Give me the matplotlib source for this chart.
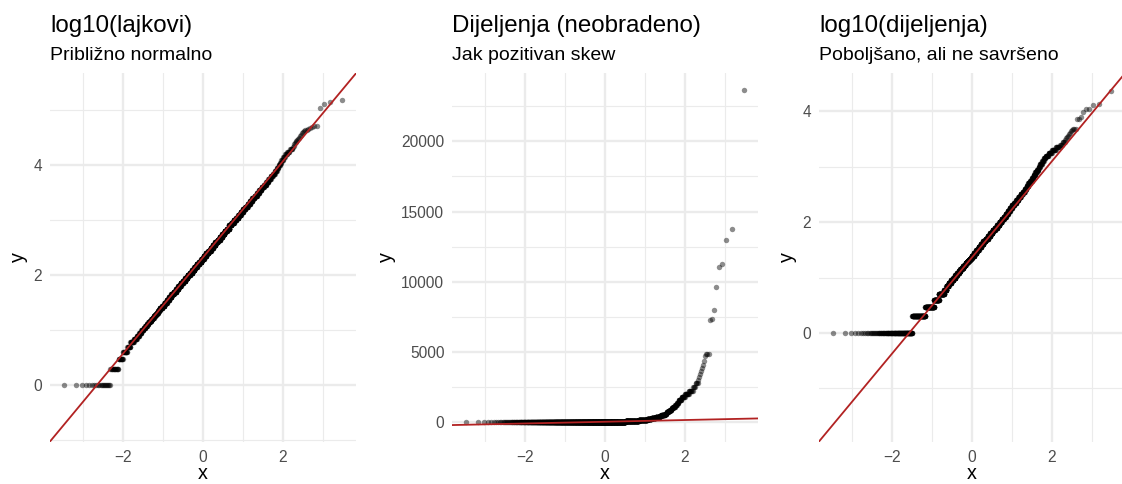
import numpy as np
import matplotlib
matplotlib.use("Agg")
import matplotlib.pyplot as plt
from matplotlib.ticker import MultipleLocator
from statistics import NormalDist

# ---------------- data (frequency tables) ----------------
# likes per post: distinct values and how many posts have that value
lajkovi_vrijednosti = [
    1, 2, 3, 4, 5, 6, 7, 8, 9, 10,
    11, 12, 13, 14, 15, 16, 17, 18, 19, 20,
    21, 22, 23, 25, 28, 32, 35, 40, 45, 50, 56, 63, 71, 79, 89,
    100, 112, 126, 141, 158, 178, 200, 224, 251, 282,
    316, 355, 398, 447, 501, 562, 631, 708, 824, 891,
    1000, 1122, 1259, 1413, 1585, 1778, 1995, 2239, 2512, 2818,
    3162, 3548, 3981, 4467, 5012, 5623, 6310, 7079, 7943, 8913,
    10000, 11220, 12589, 14125, 15849, 17783, 19953,
    21880, 22910, 23990, 25120, 26300, 27540, 28840, 30200, 31620, 33880,
    36310, 38900, 40740, 41690, 43650, 44670, 45710, 47860, 48980, 51290,
    52480, 109600, 131800, 144500, 154900,
]
lajkovi_broj = [
    20, 14, 11, 13, 11, 14, 14, 13, 13, 13,
    12, 12, 12, 12, 11, 11, 11, 11, 10, 10,
    11, 10, 10, 27, 28, 30, 31, 33, 34, 38, 36, 39, 40, 41, 42,
    44, 44, 44, 46, 46, 46, 46, 46, 46, 46,
    44, 45, 43, 43, 42, 40, 40, 38, 36, 35,
    34, 32, 30, 29, 27, 26, 24, 22, 21, 19,
    18, 17, 15, 14, 12, 12, 9, 8, 8, 6,
    5, 4, 5, 5, 5, 5, 5,
    1, 1, 1, 1, 1, 1, 1, 1, 1, 1,
    1, 1, 1, 1, 1, 1, 1, 1, 1, 1,
    1, 1, 1, 1, 1,
]

# shares per post: distinct values and how many posts have that value
dijeljenja_vrijednosti = [
    1, 2, 3, 4, 5, 6, 7, 8, 9, 10,
    11, 12, 13, 14, 15, 16, 17, 18, 19, 20,
    21, 22, 23, 25, 28, 32, 35, 40, 45, 50, 56, 63, 71, 79, 89,
    100, 112, 126, 141, 158, 178, 200, 224, 251, 282,
    316, 355, 398, 447, 501, 562, 631, 708, 794, 891,
    1000, 1122, 1259, 1413, 1585, 1778, 1995, 2239, 2512, 2818,
    3050, 3250, 3450, 3650, 3850, 4100, 4400, 4700, 4850, 4880,
    4900, 7300, 7370, 7990, 9600, 11050, 11260, 13010, 13770, 23650,
]
dijeljenja_broj = [
    134, 108, 100, 65, 77, 38, 35, 43, 40, 36,
    34, 32, 29, 27, 26, 25, 23, 22, 21, 20,
    20, 20, 19, 46, 46, 45, 46, 44, 44, 44, 42, 41, 40, 38, 38,
    33, 31, 29, 29, 26, 26, 26, 24, 22, 22,
    19, 17, 15, 14, 13, 12, 10, 10, 9, 9,
    7, 9, 7, 7, 10, 10, 10, 8, 4, 4,
    1, 1, 1, 1, 1, 1, 1, 1, 1, 1,
    1, 1, 1, 1, 1, 1, 1, 1, 1, 1,
]

naslovi = ["log10(lajkovi)", "Dijeljenja (neobradeno)", "log10(dijeljenja)"]
podnaslovi = ["Približno normalno", "Jak pozitivan skew", "Poboljšano, ali ne savršeno"]

# ---------------- helpers ----------------
ND = NormalDist()


def qq_data(sample):
    s = np.sort(np.asarray(sample, float))
    n = s.size
    theo = np.array([ND.inv_cdf((i - 0.5) / n) for i in range(1, n + 1)])
    return theo, s


def qq_line(sample):
    q1, q3 = np.quantile(sample, [0.25, 0.75])
    t1, t3 = ND.inv_cdf(0.25), ND.inv_cdf(0.75)
    slope = (q3 - q1) / (t3 - t1)
    return slope, q1 - slope * t1


lajkovi = np.repeat(lajkovi_vrijednosti, lajkovi_broj)
dijeljenja = np.repeat(dijeljenja_vrijednosti, dijeljenja_broj)
paneli = [np.log10(lajkovi), dijeljenja.astype(float), np.log10(dijeljenja)]
y_major = [2, 5000, 2]
y_minor = [1, 2500, 1]

# ---------------- figure ----------------
plt.rcParams["font.family"] = ["Liberation Sans", "DejaVu Sans"]
W, H = 1122, 484
fig = plt.figure(figsize=(W / 100, H / 100), dpi=100)

lefts = [50, 452, 819]
ax_w = 306
ax_top, ax_bot = 73.3, 441.5
GRID = "#EBEBEB"

for k in range(3):
    ax = fig.add_axes([lefts[k] / W, (H - ax_bot) / H, ax_w / W, (ax_bot - ax_top) / H])
    theo, s = qq_data(paneli[k])
    slope, inter = qq_line(paneli[k])
    ax.plot(theo, s, "o", ms=3.9, color="black", alpha=0.45, mec="none", zorder=2)
    xs = np.array([theo.min(), theo.max()])
    ly = inter + slope * xs
    xmin, xmax = xs
    ymin = min(s.min(), ly.min())
    ymax = max(s.max(), ly.max())
    dx = (xmax - xmin) * 0.05
    dy = (ymax - ymin) * 0.05
    ax.set_xlim(xmin - dx, xmax + dx)
    ax.set_ylim(ymin - dy, ymax + dy)
    ax.axline((0, inter), slope=slope, color="#B22222", lw=1.3, zorder=3)

    ax.xaxis.set_major_locator(MultipleLocator(2))
    ax.xaxis.set_minor_locator(MultipleLocator(1))
    ax.yaxis.set_major_locator(MultipleLocator(y_major[k]))
    ax.yaxis.set_minor_locator(MultipleLocator(y_minor[k]))
    ax.grid(which="major", color=GRID, lw=1.7)
    ax.grid(which="minor", color=GRID, lw=0.85)
    ax.set_axisbelow(True)
    for sp in ax.spines.values():
        sp.set_visible(False)
    ax.tick_params(which="both", length=0)
    ax.tick_params(axis="x", labelsize=11.2, labelcolor="#4D4D4D", pad=6.0)
    ax.tick_params(axis="y", labelsize=11.2, labelcolor="#4D4D4D", pad=5.5)
    ax.set_xlabel("x", fontsize=14.2, labelpad=-0.5)
    ax.set_ylabel("y", fontsize=14.2, labelpad=4)

    fig.text(lefts[k] / W, 1 - 31.7 / H, naslovi[k], fontsize=17.4, va="baseline", ha="left")
    fig.text(lefts[k] / W, 1 - 60.0 / H, podnaslovi[k], fontsize=14.0, va="baseline", ha="left")

fig.savefig("out.png", dpi=100)
